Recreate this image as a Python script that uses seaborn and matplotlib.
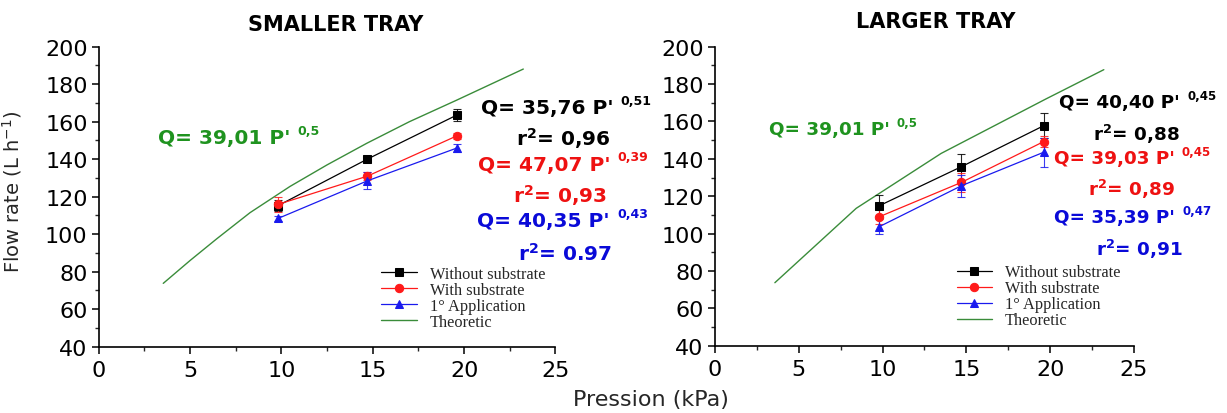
import matplotlib
matplotlib.use("Agg")
import matplotlib.pyplot as plt
import seaborn as sns
import pandas as pd
from matplotlib.ticker import MultipleLocator

# ---------------- data ----------------
pressure = [9.81, 14.71, 19.61]

small_without = [115.2, 140.1, 163.6]
small_without_err = [3.0, 1.5, 3.0]
small_with = [115.9, 131.0, 152.5]
small_with_err = [4.0, 2.0, 1.5]
small_first = [108.4, 128.5, 146.0]
small_first_err = [1.5, 4.5, 2.0]
small_theo_x = [3.53, 5.0, 6.45, 8.28, 10.47, 12.5, 14.67, 17.0, 19.59, 23.24]
small_theo_y = [73.8, 86.0, 97.5, 111.5, 125.5, 137.0, 148.5, 160.0, 171.5, 188.1]

large_without = [114.9, 135.8, 157.7]
large_without_err = [5.7, 7.0, 6.6]
large_with = [109.0, 127.4, 149.2]
large_with_err = [4.0, 5.0, 3.0]
large_first = [103.7, 125.6, 143.5]
large_first_err = [4.0, 6.0, 7.7]
large_theo_x = [3.58, 8.43, 13.5, 19.74, 23.2]
large_theo_y = [73.7, 113.5, 142.9, 172.0, 187.7]

series_names = ["Without substrate", "With substrate", "1° Application", "Theoretic"]
titles = ["SMALLER TRAY", "LARGER TRAY"]
x_ticks = [0, 5, 10, 15, 20, 25]
y_ticks = [40, 60, 80, 100, 120, 140, 160, 180, 200]

small_eq = [("Q= 39,01 P'", "0,5"), ("Q= 35,76 P'", "0,51"), ("r$^2$= 0,96", None),
            ("Q= 47,07 P'", "0,39"), ("r$^2$= 0,93", None),
            ("Q= 40,35 P'", "0,43"), ("r$^2$= 0.97", None)]
large_eq = [("Q= 39,01 P'", "0,5"), ("Q= 40,40 P'", "0,45"), ("r$^2$= 0,88", None),
            ("Q= 39,03 P'", "0,45"), ("r$^2$= 0,89", None),
            ("Q= 35,39 P'", "0,47"), ("r$^2$= 0,91", None)]

# ---------------- style ----------------
sns.set_theme(style="ticks")
plt.rcParams["font.family"] = ["DejaVu Sans"]
plt.rcParams["mathtext.default"] = "regular"

BLACK = "#000000"
RED = "#ff1a1a"
BLUE = "#1a1aee"
GREEN_LINE = "#3a8c3a"
TXT = {"k": "#000000", "r": "#ee1111", "b": "#0a0ad8", "g": "#1f931f"}

fig = plt.figure(figsize=(12.27, 4.14), dpi=100)
axL = fig.add_axes([0.0805, 0.1601, 0.3722, 0.7246])
axR = fig.add_axes([0.5826, 0.1626, 0.3416, 0.7222])


def draw_panel(ax, title, title_xy, wo, wo_e, wi, wi_e, fa, fa_e, tx, ty,
               eqs, eq_pos, leg_anchor, eq_size, sup_size, sup_gap):
    specs = [(wo, wo_e, BLACK, "s", series_names[0]),
             (wi, wi_e, RED, "o", series_names[1]),
             (fa, fa_e, BLUE, "^", series_names[2])]
    theo = pd.DataFrame({"x": tx, "y": ty})
    sns.lineplot(data=theo, x="x", y="y", ax=ax, color=GREEN_LINE, lw=1.0,
                 label=series_names[3], sort=False)
    for vals, errs, col, mk, name in specs:
        df = pd.DataFrame({"x": pressure, "y": vals})
        ax.errorbar(pressure, vals, yerr=errs, fmt="none", ecolor=col,
                    elinewidth=0.8, capsize=3, capthick=0.8, alpha=0.85, zorder=2)
        sns.lineplot(data=df, x="x", y="y", ax=ax, color=col, lw=0.9, marker=mk,
                     markersize=6, markeredgecolor=col, label=name, zorder=3)

    ax.set_xlim(0, 25)
    ax.set_ylim(40, 200)
    ax.set_xticks(x_ticks)
    ax.set_yticks(y_ticks)
    ax.xaxis.set_minor_locator(MultipleLocator(2.5))
    ax.yaxis.set_minor_locator(MultipleLocator(10))
    ax.tick_params(axis="both", which="major", direction="out", length=5,
                   width=1.1, labelsize=16, colors="black")
    ax.tick_params(axis="x", which="major", pad=4.5)
    ax.tick_params(axis="y", which="major", pad=3)
    ax.tick_params(axis="both", which="minor", direction="out", length=3, width=1.0)
    for s in ["top", "right"]:
        ax.spines[s].set_visible(False)
    for s in ["left", "bottom"]:
        ax.spines[s].set_linewidth(1.2)
        ax.spines[s].set_color("black")
    ax.set_xlabel("")
    ax.set_ylabel("")

    ax.text(title_xy[0], title_xy[1], title, transform=ax.transAxes, ha="center",
            va="center", fontsize=15, fontweight="bold", color="black")

    colors = ["g", "k", "k", "r", "r", "b", "b"]
    for (main, sup), (x, y), c in zip(eqs, eq_pos, colors):
        t = ax.text(x, y, main, ha="left", va="center", fontsize=eq_size,
                    fontweight="bold", color=TXT[c])
        if sup is not None:
            ax.annotate(sup, xy=(1, 1), xycoords=t, xytext=(sup_gap, 3),
                        textcoords="offset points", ha="left", va="top",
                        fontsize=sup_size, fontweight="bold", color=TXT[c])

    handles, labels = ax.get_legend_handles_labels()
    order = [labels.index(n) for n in series_names]
    ax.legend([handles[i] for i in order], [labels[i] for i in order],
              loc="upper left", bbox_to_anchor=leg_anchor, frameon=False,
              borderpad=0, borderaxespad=0, labelspacing=0.0,
              handlelength=2.15, handletextpad=0.8,
              prop={"family": "Liberation Serif", "size": 11.8})


small_pos = [(3.25, 151.7), (20.92, 167.7), (22.82, 151.7), (20.76, 137.4),
             (22.65, 121.4), (20.73, 107.2), (22.94, 90.3)]
large_pos = [(3.23, 155.9), (20.55, 170.2), (22.55, 153.7), (20.2, 140.3),
             (22.28, 123.9), (20.25, 108.7), (22.74, 92.1)]

draw_panel(axL, titles[0], (0.518, 1.0757), small_without, small_without_err,
           small_with, small_with_err, small_first, small_first_err,
           small_theo_x, small_theo_y, small_eq, small_pos, (0.619, 0.27),
           14.5, 9, 5)
draw_panel(axR, titles[1], (0.527, 1.087), large_without, large_without_err,
           large_with, large_with_err, large_first, large_first_err,
           large_theo_x, large_theo_y, large_eq, large_pos, (0.577, 0.2716),
           13.2, 8.5, 5)

axL.set_ylabel("Flow rate (L h$^{-1}$)", fontsize=14)
axL.yaxis.set_label_coords(-0.1644, 0.52)

fig.text(650.8 / 1227, 1 - 400 / 414, "Pression (kPa)", ha="center", va="center",
         fontsize=16)

fig.savefig("out.png", dpi=100, facecolor="white")
